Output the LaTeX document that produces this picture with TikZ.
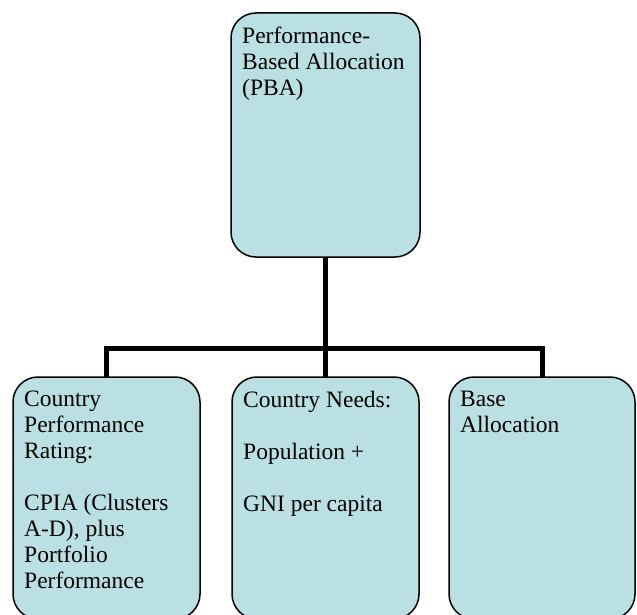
\documentclass[tikz,border=0pt]{standalone}
\usepackage{fontspec}
\setmainfont{Liberation Serif}
\definecolor{boxfill}{HTML}{BBE0E3}
\begin{document}
\begin{tikzpicture}[x=1pt,y=-1pt,
  box/.style={draw=black,line width=1.5pt,fill=boxfill,rounded corners=25pt,inner sep=0pt},
  boxtext/.style={anchor=north west,inner sep=0pt,align=left,font=\fontsize{23.5}{26}\selectfont},
  conn/.style={draw=black,line width=5pt,line join=miter}]
\useasboundingbox (0,0) rectangle (637,615);
\begin{scope}
\clip (0,0) rectangle (637,615);
\path[box] (231,13) rectangle (420,257);
\node[inner sep=0pt,minimum width=189pt,minimum height=244pt] (top) at (325.5,135) {};
\path[box] (13,377) rectangle (200,619);
\node[inner sep=0pt,minimum width=187pt,minimum height=242pt] (left) at (106.5,498) {};
\path[box] (232,377) rectangle (419,619);
\node[inner sep=0pt,minimum width=187pt,minimum height=242pt] (mid) at (325.5,498) {};
\path[box] (449,377) rectangle (635,619);
\node[inner sep=0pt,minimum width=186pt,minimum height=242pt] (right) at (542,498) {};
\end{scope}
\coordinate (bus) at (325.5,348);
\draw[conn] (top.south) -- (mid.north);
\draw[conn] (left.north) |- (bus) -| (right.north);
\node[boxtext] (ttop) at (242,27) {Performance-\\Based Allocation\\(PBA)};
\node[boxtext] (tleft) at (24,391) {Country\\Performance\\Rating:\\[26pt]CPIA (Clusters\\A-D), plus\\Portfolio\\Performance};
\node[boxtext] (tmid) at (243,391) {Country Needs:\\[26pt]Population +\\[26pt]GNI per capita};
\node[boxtext] (tright) at (460,391) {Base\\Allocation};
\end{tikzpicture}
\end{document}
